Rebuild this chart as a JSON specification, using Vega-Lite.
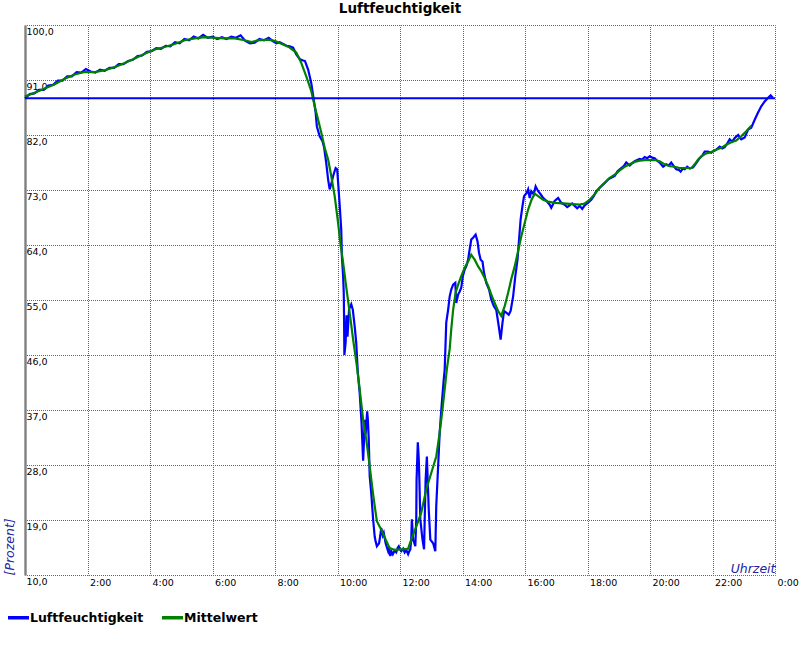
{
"$schema": "https://vega.github.io/schema/vega-lite/v6.json",
"width": 750,
"height": 550,
"autosize": "none",
"padding": {"left": 25, "top": 25, "right": 25, "bottom": 75},
"background": "white",
"title": {"text": "Luftfeuchtigkeit", "font": "DejaVu Sans", "fontSize": 13.5, "fontWeight": "bold", "color": "black", "anchor": "middle", "offset": 10},
"config": {
  "view": {"stroke": null},
  "font": "DejaVu Sans"
},
"datasets": {
"curves": [
{"t":0.00,"v":88.0,"s":"Luftfeuchtigkeit"},{"t":0.15,"v":88.7,"s":"Luftfeuchtigkeit"},{"t":0.30,"v":88.8,"s":"Luftfeuchtigkeit"},{"t":0.45,"v":89.4,"s":"Luftfeuchtigkeit"},{"t":0.60,"v":89.4,"s":"Luftfeuchtigkeit"},{"t":0.75,"v":90.1,"s":"Luftfeuchtigkeit"},{"t":0.90,"v":90.2,"s":"Luftfeuchtigkeit"},{"t":1.05,"v":90.9,"s":"Luftfeuchtigkeit"},{"t":1.20,"v":90.9,"s":"Luftfeuchtigkeit"},{"t":1.35,"v":91.6,"s":"Luftfeuchtigkeit"},{"t":1.50,"v":91.6,"s":"Luftfeuchtigkeit"},{"t":1.65,"v":92.3,"s":"Luftfeuchtigkeit"},{"t":1.80,"v":92.2,"s":"Luftfeuchtigkeit"},{"t":1.95,"v":92.8,"s":"Luftfeuchtigkeit"},{"t":2.10,"v":92.4,"s":"Luftfeuchtigkeit"},{"t":2.25,"v":92.2,"s":"Luftfeuchtigkeit"},{"t":2.40,"v":92.7,"s":"Luftfeuchtigkeit"},{"t":2.55,"v":92.5,"s":"Luftfeuchtigkeit"},{"t":2.70,"v":93.0,"s":"Luftfeuchtigkeit"},{"t":2.85,"v":93.0,"s":"Luftfeuchtigkeit"},{"t":3.00,"v":93.6,"s":"Luftfeuchtigkeit"},{"t":3.15,"v":93.6,"s":"Luftfeuchtigkeit"},{"t":3.30,"v":94.1,"s":"Luftfeuchtigkeit"},{"t":3.45,"v":94.3,"s":"Luftfeuchtigkeit"},{"t":3.60,"v":94.9,"s":"Luftfeuchtigkeit"},{"t":3.75,"v":95.0,"s":"Luftfeuchtigkeit"},{"t":3.90,"v":95.6,"s":"Luftfeuchtigkeit"},{"t":4.05,"v":95.7,"s":"Luftfeuchtigkeit"},{"t":4.20,"v":96.2,"s":"Luftfeuchtigkeit"},{"t":4.35,"v":96.1,"s":"Luftfeuchtigkeit"},{"t":4.50,"v":96.6,"s":"Luftfeuchtigkeit"},{"t":4.65,"v":96.5,"s":"Luftfeuchtigkeit"},{"t":4.80,"v":97.2,"s":"Luftfeuchtigkeit"},{"t":4.95,"v":97.0,"s":"Luftfeuchtigkeit"},{"t":5.10,"v":97.7,"s":"Luftfeuchtigkeit"},{"t":5.25,"v":97.5,"s":"Luftfeuchtigkeit"},{"t":5.40,"v":98.1,"s":"Luftfeuchtigkeit"},{"t":5.55,"v":97.8,"s":"Luftfeuchtigkeit"},{"t":5.70,"v":98.4,"s":"Luftfeuchtigkeit"},{"t":5.85,"v":97.9,"s":"Luftfeuchtigkeit"},{"t":6.00,"v":98.1,"s":"Luftfeuchtigkeit"},{"t":6.15,"v":97.7,"s":"Luftfeuchtigkeit"},{"t":6.30,"v":98.0,"s":"Luftfeuchtigkeit"},{"t":6.45,"v":97.7,"s":"Luftfeuchtigkeit"},{"t":6.60,"v":98.1,"s":"Luftfeuchtigkeit"},{"t":6.75,"v":97.9,"s":"Luftfeuchtigkeit"},{"t":6.90,"v":98.3,"s":"Luftfeuchtigkeit"},{"t":7.05,"v":97.4,"s":"Luftfeuchtigkeit"},{"t":7.20,"v":97.0,"s":"Luftfeuchtigkeit"},{"t":7.35,"v":97.1,"s":"Luftfeuchtigkeit"},{"t":7.50,"v":97.7,"s":"Luftfeuchtigkeit"},{"t":7.65,"v":97.5,"s":"Luftfeuchtigkeit"},{"t":7.80,"v":97.9,"s":"Luftfeuchtigkeit"},{"t":7.95,"v":97.3,"s":"Luftfeuchtigkeit"},
{"t":8.05,"v":97.0,"s":"Luftfeuchtigkeit"},{"t":8.15,"v":97.2,"s":"Luftfeuchtigkeit"},{"t":8.26,"v":96.9,"s":"Luftfeuchtigkeit"},{"t":8.37,"v":96.6,"s":"Luftfeuchtigkeit"},{"t":8.47,"v":96.5,"s":"Luftfeuchtigkeit"},{"t":8.58,"v":96.3,"s":"Luftfeuchtigkeit"},{"t":8.68,"v":95.2,"s":"Luftfeuchtigkeit"},{"t":8.80,"v":94.4,"s":"Luftfeuchtigkeit"},{"t":8.90,"v":94.2,"s":"Luftfeuchtigkeit"},{"t":8.96,"v":94.1,"s":"Luftfeuchtigkeit"},{"t":9.06,"v":92.7,"s":"Luftfeuchtigkeit"},{"t":9.16,"v":90.5,"s":"Luftfeuchtigkeit"},{"t":9.24,"v":87.8,"s":"Luftfeuchtigkeit"},{"t":9.30,"v":85.7,"s":"Luftfeuchtigkeit"},{"t":9.34,"v":83.4,"s":"Luftfeuchtigkeit"},{"t":9.43,"v":81.8,"s":"Luftfeuchtigkeit"},{"t":9.52,"v":81.0,"s":"Luftfeuchtigkeit"},{"t":9.57,"v":80.0,"s":"Luftfeuchtigkeit"},{"t":9.64,"v":77.4,"s":"Luftfeuchtigkeit"},{"t":9.70,"v":74.7,"s":"Luftfeuchtigkeit"},{"t":9.75,"v":73.1,"s":"Luftfeuchtigkeit"},{"t":9.80,"v":74.0,"s":"Luftfeuchtigkeit"},{"t":9.86,"v":75.3,"s":"Luftfeuchtigkeit"},{"t":9.94,"v":76.6,"s":"Luftfeuchtigkeit"},{"t":9.99,"v":76.4,"s":"Luftfeuchtigkeit"},{"t":10.02,"v":74.2,"s":"Luftfeuchtigkeit"},{"t":10.07,"v":70.5,"s":"Luftfeuchtigkeit"},{"t":10.12,"v":66.5,"s":"Luftfeuchtigkeit"},{"t":10.14,"v":62.2,"s":"Luftfeuchtigkeit"},{"t":10.18,"v":58.9,"s":"Luftfeuchtigkeit"},{"t":10.20,"v":56.2,"s":"Luftfeuchtigkeit"},{"t":10.21,"v":52.0,"s":"Luftfeuchtigkeit"},{"t":10.22,"v":46.0,"s":"Luftfeuchtigkeit"},{"t":10.26,"v":48.0,"s":"Luftfeuchtigkeit"},{"t":10.29,"v":52.5,"s":"Luftfeuchtigkeit"},{"t":10.32,"v":49.0,"s":"Luftfeuchtigkeit"},{"t":10.37,"v":53.5,"s":"Luftfeuchtigkeit"},{"t":10.44,"v":54.3,"s":"Luftfeuchtigkeit"},{"t":10.49,"v":53.4,"s":"Luftfeuchtigkeit"},{"t":10.55,"v":50.7,"s":"Luftfeuchtigkeit"},{"t":10.60,"v":48.0,"s":"Luftfeuchtigkeit"},{"t":10.65,"v":43.1,"s":"Luftfeuchtigkeit"},{"t":10.71,"v":39.8,"s":"Luftfeuchtigkeit"},{"t":10.77,"v":34.8,"s":"Luftfeuchtigkeit"},{"t":10.82,"v":28.7,"s":"Luftfeuchtigkeit"},{"t":10.84,"v":31.0,"s":"Luftfeuchtigkeit"},{"t":10.87,"v":35.4,"s":"Luftfeuchtigkeit"},{"t":10.90,"v":33.0,"s":"Luftfeuchtigkeit"},{"t":10.95,"v":36.8,"s":"Luftfeuchtigkeit"},{"t":10.97,"v":35.5,"s":"Luftfeuchtigkeit"},{"t":11.00,"v":32.2,"s":"Luftfeuchtigkeit"},{"t":11.03,"v":26.2,"s":"Luftfeuchtigkeit"},{"t":11.08,"v":23.4,"s":"Luftfeuchtigkeit"},{"t":11.14,"v":19.1,"s":"Luftfeuchtigkeit"},{"t":11.19,"v":16.3,"s":"Luftfeuchtigkeit"},{"t":11.22,"v":15.5,"s":"Luftfeuchtigkeit"},{"t":11.26,"v":14.7,"s":"Luftfeuchtigkeit"},{"t":11.33,"v":15.2,"s":"Luftfeuchtigkeit"},{"t":11.37,"v":16.5,"s":"Luftfeuchtigkeit"},{"t":11.40,"v":17.7,"s":"Luftfeuchtigkeit"},{"t":11.45,"v":16.5,"s":"Luftfeuchtigkeit"},{"t":11.48,"v":16.9,"s":"Luftfeuchtigkeit"},{"t":11.54,"v":15.2,"s":"Luftfeuchtigkeit"},{"t":11.62,"v":13.9,"s":"Luftfeuchtigkeit"},{"t":11.65,"v":14.6,"s":"Luftfeuchtigkeit"},{"t":11.69,"v":13.1,"s":"Luftfeuchtigkeit"},{"t":11.73,"v":13.8,"s":"Luftfeuchtigkeit"},{"t":11.77,"v":13.4,"s":"Luftfeuchtigkeit"},{"t":11.83,"v":14.0,"s":"Luftfeuchtigkeit"},{"t":11.88,"v":13.7,"s":"Luftfeuchtigkeit"},{"t":11.93,"v":14.5,"s":"Luftfeuchtigkeit"},{"t":11.96,"v":14.7,"s":"Luftfeuchtigkeit"},{"t":12.00,"v":14.2,"s":"Luftfeuchtigkeit"},{"t":12.04,"v":13.9,"s":"Luftfeuchtigkeit"},{"t":12.10,"v":14.3,"s":"Luftfeuchtigkeit"},{"t":12.15,"v":13.7,"s":"Luftfeuchtigkeit"},{"t":12.20,"v":14.1,"s":"Luftfeuchtigkeit"},{"t":12.26,"v":13.4,"s":"Luftfeuchtigkeit"},{"t":12.29,"v":13.8,"s":"Luftfeuchtigkeit"},{"t":12.33,"v":14.2,"s":"Luftfeuchtigkeit"},{"t":12.36,"v":16.0,"s":"Luftfeuchtigkeit"},{"t":12.38,"v":19.1,"s":"Luftfeuchtigkeit"},{"t":12.42,"v":15.8,"s":"Luftfeuchtigkeit"},{"t":12.49,"v":14.7,"s":"Luftfeuchtigkeit"},{"t":12.52,"v":19.0,"s":"Luftfeuchtigkeit"},{"t":12.53,"v":25.6,"s":"Luftfeuchtigkeit"},{"t":12.57,"v":31.7,"s":"Luftfeuchtigkeit"},{"t":12.60,"v":29.0,"s":"Luftfeuchtigkeit"},{"t":12.62,"v":25.6,"s":"Luftfeuchtigkeit"},{"t":12.65,"v":19.1,"s":"Luftfeuchtigkeit"},{"t":12.72,"v":15.8,"s":"Luftfeuchtigkeit"},{"t":12.77,"v":14.2,"s":"Luftfeuchtigkeit"},{"t":12.79,"v":19.0,"s":"Luftfeuchtigkeit"},{"t":12.82,"v":25.6,"s":"Luftfeuchtigkeit"},{"t":12.86,"v":29.4,"s":"Luftfeuchtigkeit"},{"t":12.89,"v":25.0,"s":"Luftfeuchtigkeit"},{"t":12.92,"v":20.7,"s":"Luftfeuchtigkeit"},{"t":12.97,"v":15.8,"s":"Luftfeuchtigkeit"},{"t":13.06,"v":15.2,"s":"Luftfeuchtigkeit"},{"t":13.13,"v":13.9,"s":"Luftfeuchtigkeit"},{"t":13.16,"v":21.3,"s":"Luftfeuchtigkeit"},{"t":13.22,"v":27.8,"s":"Luftfeuchtigkeit"},{"t":13.27,"v":33.3,"s":"Luftfeuchtigkeit"},{"t":13.33,"v":37.6,"s":"Luftfeuchtigkeit"},{"t":13.40,"v":42.0,"s":"Luftfeuchtigkeit"},{"t":13.43,"v":43.6,"s":"Luftfeuchtigkeit"},{"t":13.48,"v":51.3,"s":"Luftfeuchtigkeit"},{"t":13.54,"v":53.4,"s":"Luftfeuchtigkeit"},{"t":13.59,"v":55.6,"s":"Luftfeuchtigkeit"},{"t":13.64,"v":56.7,"s":"Luftfeuchtigkeit"},{"t":13.70,"v":57.5,"s":"Luftfeuchtigkeit"},{"t":13.77,"v":57.8,"s":"Luftfeuchtigkeit"},{"t":13.80,"v":54.5,"s":"Luftfeuchtigkeit"},{"t":13.86,"v":55.9,"s":"Luftfeuchtigkeit"},{"t":13.91,"v":56.4,"s":"Luftfeuchtigkeit"},{"t":13.96,"v":57.0,"s":"Luftfeuchtigkeit"},{"t":14.01,"v":58.9,"s":"Luftfeuchtigkeit"},{"t":14.07,"v":60.0,"s":"Luftfeuchtigkeit"},{"t":14.12,"v":60.5,"s":"Luftfeuchtigkeit"},{"t":14.18,"v":61.6,"s":"Luftfeuchtigkeit"},{"t":14.23,"v":63.3,"s":"Luftfeuchtigkeit"},{"t":14.28,"v":64.9,"s":"Luftfeuchtigkeit"},{"t":14.34,"v":65.2,"s":"Luftfeuchtigkeit"},{"t":14.42,"v":65.7,"s":"Luftfeuchtigkeit"},{"t":14.48,"v":64.6,"s":"Luftfeuchtigkeit"},{"t":14.53,"v":62.7,"s":"Luftfeuchtigkeit"},{"t":14.58,"v":61.6,"s":"Luftfeuchtigkeit"},{"t":14.64,"v":61.3,"s":"Luftfeuchtigkeit"},{"t":14.69,"v":59.4,"s":"Luftfeuchtigkeit"},{"t":14.76,"v":57.8,"s":"Luftfeuchtigkeit"},{"t":14.85,"v":56.7,"s":"Luftfeuchtigkeit"},{"t":14.92,"v":55.1,"s":"Luftfeuchtigkeit"},{"t":15.00,"v":54.0,"s":"Luftfeuchtigkeit"},{"t":15.08,"v":53.4,"s":"Luftfeuchtigkeit"},{"t":15.16,"v":50.7,"s":"Luftfeuchtigkeit"},{"t":15.22,"v":48.5,"s":"Luftfeuchtigkeit"},{"t":15.28,"v":51.3,"s":"Luftfeuchtigkeit"},{"t":15.33,"v":53.2,"s":"Luftfeuchtigkeit"},{"t":15.41,"v":52.9,"s":"Luftfeuchtigkeit"},{"t":15.48,"v":52.6,"s":"Luftfeuchtigkeit"},{"t":15.54,"v":53.2,"s":"Luftfeuchtigkeit"},{"t":15.62,"v":55.6,"s":"Luftfeuchtigkeit"},{"t":15.69,"v":58.9,"s":"Luftfeuchtigkeit"},{"t":15.76,"v":61.6,"s":"Luftfeuchtigkeit"},{"t":15.81,"v":64.9,"s":"Luftfeuchtigkeit"},{"t":15.86,"v":68.2,"s":"Luftfeuchtigkeit"},{"t":15.92,"v":70.4,"s":"Luftfeuchtigkeit"},{"t":15.97,"v":72.0,"s":"Luftfeuchtigkeit"},{"t":16.05,"v":72.5,"s":"Luftfeuchtigkeit"},{"t":16.10,"v":73.1,"s":"Luftfeuchtigkeit"},{"t":16.15,"v":71.7,"s":"Luftfeuchtigkeit"},{"t":16.20,"v":72.8,"s":"Luftfeuchtigkeit"},{"t":16.28,"v":72.3,"s":"Luftfeuchtigkeit"},{"t":16.34,"v":73.6,"s":"Luftfeuchtigkeit"},{"t":16.42,"v":72.8,"s":"Luftfeuchtigkeit"},{"t":16.50,"v":72.3,"s":"Luftfeuchtigkeit"},{"t":16.58,"v":71.7,"s":"Luftfeuchtigkeit"},{"t":16.69,"v":71.2,"s":"Luftfeuchtigkeit"},{"t":16.79,"v":70.6,"s":"Luftfeuchtigkeit"},{"t":16.84,"v":70.1,"s":"Luftfeuchtigkeit"},{"t":16.95,"v":71.2,"s":"Luftfeuchtigkeit"},{"t":17.06,"v":71.7,"s":"Luftfeuchtigkeit"},{"t":17.16,"v":70.9,"s":"Luftfeuchtigkeit"},{"t":17.27,"v":70.6,"s":"Luftfeuchtigkeit"},{"t":17.35,"v":70.2,"s":"Luftfeuchtigkeit"},{"t":17.43,"v":70.5,"s":"Luftfeuchtigkeit"},{"t":17.51,"v":70.8,"s":"Luftfeuchtigkeit"},{"t":17.59,"v":70.4,"s":"Luftfeuchtigkeit"},{"t":17.67,"v":70.0,"s":"Luftfeuchtigkeit"},{"t":17.75,"v":70.4,"s":"Luftfeuchtigkeit"},{"t":17.83,"v":69.9,"s":"Luftfeuchtigkeit"},{"t":17.91,"v":70.5,"s":"Luftfeuchtigkeit"},{"t":18.01,"v":70.9,"s":"Luftfeuchtigkeit"},{"t":18.12,"v":71.4,"s":"Luftfeuchtigkeit"},{"t":18.20,"v":72.0,"s":"Luftfeuchtigkeit"},{"t":18.28,"v":72.8,"s":"Luftfeuchtigkeit"},{"t":18.36,"v":73.2,"s":"Luftfeuchtigkeit"},{"t":18.44,"v":73.6,"s":"Luftfeuchtigkeit"},{"t":18.52,"v":74.0,"s":"Luftfeuchtigkeit"},{"t":18.60,"v":74.4,"s":"Luftfeuchtigkeit"},{"t":18.68,"v":74.8,"s":"Luftfeuchtigkeit"},{"t":18.76,"v":75.0,"s":"Luftfeuchtigkeit"},{"t":18.87,"v":75.3,"s":"Luftfeuchtigkeit"},{"t":18.97,"v":76.1,"s":"Luftfeuchtigkeit"},{"t":19.08,"v":76.6,"s":"Luftfeuchtigkeit"},{"t":19.16,"v":76.9,"s":"Luftfeuchtigkeit"},{"t":19.24,"v":77.5,"s":"Luftfeuchtigkeit"},{"t":19.35,"v":77.0,"s":"Luftfeuchtigkeit"},{"t":19.43,"v":77.4,"s":"Luftfeuchtigkeit"},{"t":19.51,"v":77.7,"s":"Luftfeuchtigkeit"},{"t":19.59,"v":77.9,"s":"Luftfeuchtigkeit"},{"t":19.67,"v":78.1,"s":"Luftfeuchtigkeit"},{"t":19.75,"v":78.0,"s":"Luftfeuchtigkeit"},{"t":19.83,"v":78.4,"s":"Luftfeuchtigkeit"},{"t":19.91,"v":78.2,"s":"Luftfeuchtigkeit"},{"t":19.99,"v":78.5,"s":"Luftfeuchtigkeit"},{"t":20.07,"v":78.3,"s":"Luftfeuchtigkeit"},{"t":20.15,"v":78.2,"s":"Luftfeuchtigkeit"},{"t":20.23,"v":77.8,"s":"Luftfeuchtigkeit"},{"t":20.31,"v":77.5,"s":"Luftfeuchtigkeit"},{"t":20.42,"v":76.8,"s":"Luftfeuchtigkeit"},{"t":20.52,"v":77.2,"s":"Luftfeuchtigkeit"},{"t":20.60,"v":77.0,"s":"Luftfeuchtigkeit"},{"t":20.68,"v":77.5,"s":"Luftfeuchtigkeit"},{"t":20.76,"v":76.9,"s":"Luftfeuchtigkeit"},{"t":20.84,"v":76.4,"s":"Luftfeuchtigkeit"},{"t":20.92,"v":76.3,"s":"Luftfeuchtigkeit"},{"t":20.98,"v":76.0,"s":"Luftfeuchtigkeit"},{"t":21.05,"v":76.5,"s":"Luftfeuchtigkeit"},{"t":21.11,"v":76.4,"s":"Luftfeuchtigkeit"},{"t":21.19,"v":76.8,"s":"Luftfeuchtigkeit"},{"t":21.27,"v":76.5,"s":"Luftfeuchtigkeit"},{"t":21.38,"v":76.7,"s":"Luftfeuchtigkeit"},{"t":21.48,"v":77.4,"s":"Luftfeuchtigkeit"},{"t":21.59,"v":78.2,"s":"Luftfeuchtigkeit"},{"t":21.67,"v":78.6,"s":"Luftfeuchtigkeit"},{"t":21.75,"v":79.3,"s":"Luftfeuchtigkeit"},{"t":21.86,"v":79.3,"s":"Luftfeuchtigkeit"},{"t":21.96,"v":79.1,"s":"Luftfeuchtigkeit"},{"t":22.04,"v":79.4,"s":"Luftfeuchtigkeit"},{"t":22.12,"v":79.6,"s":"Luftfeuchtigkeit"},{"t":22.23,"v":80.1,"s":"Luftfeuchtigkeit"},{"t":22.31,"v":79.8,"s":"Luftfeuchtigkeit"},{"t":22.39,"v":80.0,"s":"Luftfeuchtigkeit"},{"t":22.47,"v":80.6,"s":"Luftfeuchtigkeit"},{"t":22.55,"v":81.3,"s":"Luftfeuchtigkeit"},{"t":22.63,"v":80.9,"s":"Luftfeuchtigkeit"},{"t":22.71,"v":81.5,"s":"Luftfeuchtigkeit"},{"t":22.82,"v":82.0,"s":"Luftfeuchtigkeit"},{"t":22.87,"v":81.6,"s":"Luftfeuchtigkeit"},{"t":22.92,"v":81.3,"s":"Luftfeuchtigkeit"},{"t":23.03,"v":81.6,"s":"Luftfeuchtigkeit"},{"t":23.14,"v":82.9,"s":"Luftfeuchtigkeit"},{"t":23.24,"v":83.2,"s":"Luftfeuchtigkeit"},{"t":23.35,"v":84.5,"s":"Luftfeuchtigkeit"},{"t":23.45,"v":85.6,"s":"Luftfeuchtigkeit"},{"t":23.56,"v":86.7,"s":"Luftfeuchtigkeit"},{"t":23.67,"v":87.5,"s":"Luftfeuchtigkeit"},{"t":23.78,"v":88.1,"s":"Luftfeuchtigkeit"},{"t":23.86,"v":88.5,"s":"Luftfeuchtigkeit"},{"t":23.93,"v":88.1,"s":"Luftfeuchtigkeit"},
{"t":0.00,"v":88.3,"s":"Mittelwert"},{"t":0.31,"v":88.9,"s":"Mittelwert"},{"t":0.63,"v":89.6,"s":"Mittelwert"},{"t":0.95,"v":90.3,"s":"Mittelwert"},{"t":1.27,"v":91.2,"s":"Mittelwert"},{"t":1.59,"v":91.9,"s":"Mittelwert"},{"t":1.91,"v":92.3,"s":"Mittelwert"},{"t":2.23,"v":92.3,"s":"Mittelwert"},{"t":2.55,"v":92.6,"s":"Mittelwert"},{"t":2.87,"v":93.1,"s":"Mittelwert"},{"t":3.19,"v":93.8,"s":"Mittelwert"},{"t":3.51,"v":94.5,"s":"Mittelwert"},{"t":3.83,"v":95.3,"s":"Mittelwert"},{"t":4.15,"v":96.0,"s":"Mittelwert"},{"t":4.47,"v":96.4,"s":"Mittelwert"},{"t":4.79,"v":96.9,"s":"Mittelwert"},{"t":5.11,"v":97.5,"s":"Mittelwert"},{"t":5.43,"v":97.8,"s":"Mittelwert"},{"t":5.75,"v":98.0,"s":"Mittelwert"},{"t":6.07,"v":97.9,"s":"Mittelwert"},{"t":6.39,"v":97.8,"s":"Mittelwert"},{"t":6.71,"v":97.8,"s":"Mittelwert"},{"t":7.03,"v":97.5,"s":"Mittelwert"},{"t":7.25,"v":97.2,"s":"Mittelwert"},{"t":7.45,"v":97.5,"s":"Mittelwert"},{"t":7.77,"v":97.6,"s":"Mittelwert"},{"t":7.99,"v":97.4,"s":"Mittelwert"},{"t":8.26,"v":96.8,"s":"Mittelwert"},{"t":8.47,"v":96.3,"s":"Mittelwert"},{"t":8.68,"v":95.5,"s":"Mittelwert"},{"t":8.84,"v":93.8,"s":"Mittelwert"},{"t":9.00,"v":91.6,"s":"Mittelwert"},{"t":9.16,"v":89.2,"s":"Mittelwert"},{"t":9.27,"v":86.7,"s":"Mittelwert"},{"t":9.38,"v":84.5,"s":"Mittelwert"},{"t":9.48,"v":82.4,"s":"Mittelwert"},{"t":9.59,"v":79.9,"s":"Mittelwert"},{"t":9.70,"v":78.0,"s":"Mittelwert"},{"t":9.80,"v":75.3,"s":"Mittelwert"},{"t":9.91,"v":72.0,"s":"Mittelwert"},{"t":10.02,"v":67.6,"s":"Mittelwert"},{"t":10.09,"v":64.4,"s":"Mittelwert"},{"t":10.18,"v":61.1,"s":"Mittelwert"},{"t":10.26,"v":57.9,"s":"Mittelwert"},{"t":10.39,"v":52.9,"s":"Mittelwert"},{"t":10.50,"v":48.5,"s":"Mittelwert"},{"t":10.62,"v":44.2,"s":"Mittelwert"},{"t":10.71,"v":40.4,"s":"Mittelwert"},{"t":10.82,"v":35.4,"s":"Mittelwert"},{"t":10.92,"v":32.2,"s":"Mittelwert"},{"t":11.03,"v":27.8,"s":"Mittelwert"},{"t":11.12,"v":24.0,"s":"Mittelwert"},{"t":11.19,"v":21.3,"s":"Mittelwert"},{"t":11.26,"v":18.8,"s":"Mittelwert"},{"t":11.40,"v":17.4,"s":"Mittelwert"},{"t":11.54,"v":15.8,"s":"Mittelwert"},{"t":11.67,"v":14.4,"s":"Mittelwert"},{"t":11.83,"v":14.1,"s":"Mittelwert"},{"t":12.04,"v":14.2,"s":"Mittelwert"},{"t":12.26,"v":14.3,"s":"Mittelwert"},{"t":12.36,"v":15.8,"s":"Mittelwert"},{"t":12.52,"v":17.9,"s":"Mittelwert"},{"t":12.68,"v":20.2,"s":"Mittelwert"},{"t":12.84,"v":24.0,"s":"Mittelwert"},{"t":13.00,"v":26.7,"s":"Mittelwert"},{"t":13.16,"v":29.4,"s":"Mittelwert"},{"t":13.27,"v":33.3,"s":"Mittelwert"},{"t":13.36,"v":37.1,"s":"Mittelwert"},{"t":13.43,"v":40.4,"s":"Mittelwert"},{"t":13.50,"v":43.7,"s":"Mittelwert"},{"t":13.59,"v":47.0,"s":"Mittelwert"},{"t":13.64,"v":50.2,"s":"Mittelwert"},{"t":13.70,"v":53.4,"s":"Mittelwert"},{"t":13.78,"v":56.2,"s":"Mittelwert"},{"t":13.86,"v":57.5,"s":"Mittelwert"},{"t":13.96,"v":58.9,"s":"Mittelwert"},{"t":14.07,"v":60.3,"s":"Mittelwert"},{"t":14.18,"v":61.3,"s":"Mittelwert"},{"t":14.28,"v":62.4,"s":"Mittelwert"},{"t":14.39,"v":61.6,"s":"Mittelwert"},{"t":14.50,"v":60.5,"s":"Mittelwert"},{"t":14.60,"v":59.7,"s":"Mittelwert"},{"t":14.71,"v":58.6,"s":"Mittelwert"},{"t":14.82,"v":57.3,"s":"Mittelwert"},{"t":14.92,"v":55.9,"s":"Mittelwert"},{"t":15.03,"v":54.5,"s":"Mittelwert"},{"t":15.14,"v":53.2,"s":"Mittelwert"},{"t":15.24,"v":52.4,"s":"Mittelwert"},{"t":15.35,"v":54.0,"s":"Mittelwert"},{"t":15.46,"v":56.2,"s":"Mittelwert"},{"t":15.56,"v":58.4,"s":"Mittelwert"},{"t":15.67,"v":60.5,"s":"Mittelwert"},{"t":15.78,"v":63.0,"s":"Mittelwert"},{"t":15.88,"v":65.4,"s":"Mittelwert"},{"t":15.99,"v":67.6,"s":"Mittelwert"},{"t":16.10,"v":69.8,"s":"Mittelwert"},{"t":16.21,"v":71.4,"s":"Mittelwert"},{"t":16.31,"v":72.4,"s":"Mittelwert"},{"t":16.42,"v":72.0,"s":"Mittelwert"},{"t":16.58,"v":71.4,"s":"Mittelwert"},{"t":16.74,"v":71.1,"s":"Mittelwert"},{"t":16.95,"v":70.9,"s":"Mittelwert"},{"t":17.22,"v":70.8,"s":"Mittelwert"},{"t":17.54,"v":70.7,"s":"Mittelwert"},{"t":17.75,"v":70.6,"s":"Mittelwert"},{"t":17.91,"v":70.8,"s":"Mittelwert"},{"t":18.07,"v":71.4,"s":"Mittelwert"},{"t":18.23,"v":72.3,"s":"Mittelwert"},{"t":18.39,"v":73.4,"s":"Mittelwert"},{"t":18.55,"v":74.2,"s":"Mittelwert"},{"t":18.71,"v":75.0,"s":"Mittelwert"},{"t":18.87,"v":75.5,"s":"Mittelwert"},{"t":19.03,"v":76.2,"s":"Mittelwert"},{"t":19.19,"v":76.8,"s":"Mittelwert"},{"t":19.35,"v":77.2,"s":"Mittelwert"},{"t":19.51,"v":77.6,"s":"Mittelwert"},{"t":19.67,"v":77.8,"s":"Mittelwert"},{"t":19.83,"v":77.9,"s":"Mittelwert"},{"t":20.15,"v":77.9,"s":"Mittelwert"},{"t":20.31,"v":77.7,"s":"Mittelwert"},{"t":20.47,"v":77.2,"s":"Mittelwert"},{"t":20.63,"v":76.9,"s":"Mittelwert"},{"t":20.79,"v":76.8,"s":"Mittelwert"},{"t":20.95,"v":76.6,"s":"Mittelwert"},{"t":21.33,"v":76.6,"s":"Mittelwert"},{"t":21.43,"v":77.2,"s":"Mittelwert"},{"t":21.54,"v":78.0,"s":"Mittelwert"},{"t":21.64,"v":78.5,"s":"Mittelwert"},{"t":21.80,"v":79.0,"s":"Mittelwert"},{"t":21.96,"v":79.2,"s":"Mittelwert"},{"t":22.12,"v":79.6,"s":"Mittelwert"},{"t":22.28,"v":79.9,"s":"Mittelwert"},{"t":22.44,"v":80.4,"s":"Mittelwert"},{"t":22.60,"v":80.8,"s":"Mittelwert"},{"t":22.76,"v":81.1,"s":"Mittelwert"},{"t":22.92,"v":81.8,"s":"Mittelwert"},{"t":23.08,"v":82.6,"s":"Mittelwert"},{"t":23.24,"v":83.5,"s":"Mittelwert"}
],
"refline": [{"v": 88.0}]
},
"layer": [
  {
    "data": {"name": "curves"},
    "mark": {"type": "line", "strokeWidth": 2.2, "interpolate": "linear"},
    "encoding": {
      "x": {"field": "t", "type": "quantitative",
        "scale": {"domain": [0, 24], "nice": false, "zero": false},
        "axis": {"values": [2,4,6,8,10,12,14,16,18,20,22,24], "labelExpr": "(datum.value % 24) + ':00'",
          "grid": true, "gridDash": [1,1], "gridDashOffset": 0.5, "gridColor": "#666666", "gridWidth": 1,
          "domain": false, "ticks": false, "tickSize": 0,
          "labelAlign": "left", "labelBaseline": "top", "labelPadding": 2, "labelOffset": 2,
          "labelFont": "DejaVu Sans", "labelFontSize": 9.5, "labelColor": "black",
          "labelFlush": false, "labelOverlap": false, "labelBound": false,
          "title": "Uhrzeit", "titleFont": "DejaVu Sans", "titleFontSize": 12.5, "titleFontStyle": "italic", "titleFontWeight": "normal",
          "titleColor": "#23239f", "titleAlign": "right", "titleBaseline": "alphabetic", "titleX": 750, "titleY": -3}
      },
      "y": {"field": "v", "type": "quantitative",
        "scale": {"domain": [10, 100], "nice": false, "zero": false},
        "axis": {"values": [10,19,28,37,46,55,64,73,82,91,100], "labelExpr": "replace(format(datum.value, '.1f'), '.', ',')",
          "grid": true, "gridDash": [1,1], "gridDashOffset": 0.5, "gridColor": "#666666", "gridWidth": 1,
          "domain": true, "domainColor": "#808080", "domainWidth": 2.4,
          "ticks": false, "tickSize": 0,
          "labelAlign": "left", "labelBaseline": "top", "labelPadding": -1, "labelOffset": 1,
          "labelFont": "DejaVu Sans", "labelFontSize": 9.5, "labelColor": "black",
          "labelFlush": false, "labelOverlap": false, "labelBound": false,
          "title": "[Prozent]", "titleFont": "DejaVu Sans", "titleFontSize": 12.5, "titleFontStyle": "italic", "titleFontWeight": "normal",
          "titleColor": "#23239f", "titleAngle": 270, "titleAlign": "left", "titleBaseline": "middle", "titleX": -16, "titleY": 550}
      },
      "color": {"field": "s", "type": "nominal",
        "scale": {"domain": ["Luftfeuchtigkeit", "Mittelwert"], "range": ["#0000ff", "#008000"]},
        "legend": {"orient": "none", "legendX": -19, "legendY": 580, "direction": "horizontal", "title": null,
          "symbolType": "stroke", "symbolSize": 441, "symbolStrokeWidth": 3.5,
          "labelFont": "DejaVu Sans", "labelFontSize": 12.5, "labelFontWeight": "bold", "labelColor": "black",
          "labelOffset": -1, "columnPadding": 11, "padding": 0}
      }
    }
  },
  {
    "data": {"name": "refline"},
    "mark": {"type": "rule", "color": "#0000ff", "strokeWidth": 2},
    "encoding": {"y": {"field": "v", "type": "quantitative"}}
  }
]
}
